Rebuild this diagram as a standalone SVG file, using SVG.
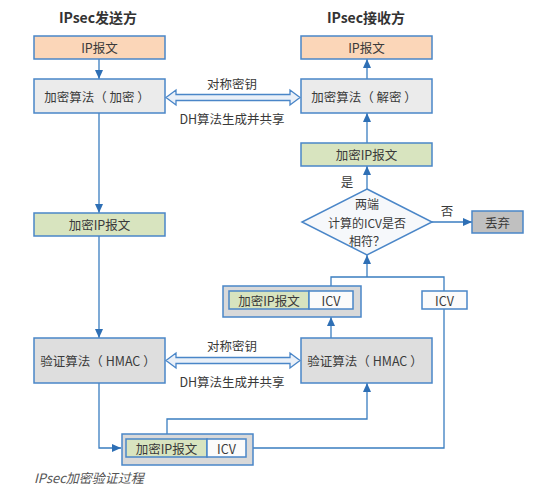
<svg xmlns="http://www.w3.org/2000/svg" width="554" height="490" viewBox="0 0 554 490">
<defs>
<marker id="ah" markerUnits="userSpaceOnUse" markerWidth="10" markerHeight="10" viewBox="0 0 10 10" refX="9" refY="5" orient="auto">
<path d="M0,1 L9,5 L0,9 Z" fill="#2e6fb5"/>
</marker>
</defs>
<style>
text{font-family:"Microsoft YaHei","Noto Sans CJK SC","Noto Sans",sans-serif;fill:#3a3a3a;font-size:12.5px;text-anchor:middle;dominant-baseline:central}
.title{font-size:14px;font-weight:bold;fill:#333}
.dia{font-size:12px}
.box{stroke:#4a86c8;stroke-width:1.5}
.peach{fill:#fbd6b8}
.gray1{fill:#ebebeb}
.gray2{fill:#dedede}
.green{fill:#d8e4bf}
.white{fill:#fbfbfb}
.outer{fill:#d9d9d9}
.drop{fill:#c0c0c0}
.conn{fill:none;stroke:#3a7dc0;stroke-width:1.3}
.arr{marker-end:url(#ah)}
.dbl{fill:#eaf0f8;stroke:#4a86c8;stroke-width:1.3}
.cap{font-style:italic;fill:#555;font-size:13px;text-anchor:start}
</style>

<text class="title" x="98" y="17">IPsec发送方</text>
<text class="title" x="366" y="17">IPsec接收方</text>

<g id="connectors">
<line class="conn arr" x1="99" y1="59" x2="99" y2="79"/>
<line class="conn arr" x1="99" y1="113" x2="99" y2="213"/>
<line class="conn arr" x1="99" y1="236" x2="99" y2="338"/>
<polyline class="conn arr" points="99,383 99,448 121,448"/>
<polyline class="conn arr" points="167,439 167,419 367,419 367,383"/>
<polyline class="conn" points="246,448 444,448 444,309"/>
<line class="conn arr" x1="331" y1="338" x2="331" y2="317"/>
<polyline class="conn" points="331,286 331,277 444,277 444,291"/>
<line class="conn arr" x1="367" y1="277" x2="367" y2="255"/>
<line class="conn arr" x1="432" y1="222" x2="472" y2="222"/>
<line class="conn arr" x1="367" y1="189" x2="367" y2="166"/>
<line class="conn arr" x1="367" y1="143" x2="367" y2="113"/>
<line class="conn arr" x1="367" y1="79" x2="367" y2="59"/>
<path class="dbl" d="M166,97.5 L176,90 L176,94.5 L290,94.5 L290,90 L300,97.5 L290,105 L290,100.5 L176,100.5 L176,105 Z"/>
<path class="dbl" d="M166,360.5 L176,353 L176,357.5 L290,357.5 L290,353 L300,360.5 L290,368 L290,363.5 L176,363.5 L176,368 Z"/>
</g>
<text x="232" y="83">对称密钥</text>
<text x="232" y="118">DH算法生成并共享</text>
<text x="232" y="345">对称密钥</text>
<text x="232" y="381">DH算法生成并共享</text>
<text x="347" y="181">是</text>
<text x="447" y="210">否</text>

<g id="s_ip"><rect class="box peach" x="34" y="36" width="131" height="23"/><text x="99.5" y="47.5">IP报文</text></g>
<g id="s_enc"><rect class="box gray1" x="34" y="79" width="131" height="34"/><text x="97" y="96" xml:space="preserve">加密算法（ 加密 ）</text></g>
<g id="s_encip"><rect class="box green" x="34" y="213" width="131" height="23"/><text x="99.5" y="224.5">加密IP报文</text></g>
<g id="s_hmac"><rect class="box gray2" x="34" y="338" width="131" height="45"/><text x="98" y="360.5" xml:space="preserve">验证算法（ HMAC ）</text></g>
<g id="s_pkt"><rect class="box outer" x="122" y="434" width="131" height="31"/><rect class="box green" x="126" y="439" width="81" height="18"/><rect class="box white" x="207" y="439" width="39" height="18"/><text x="166.5" y="448">加密IP报文</text><text x="226.5" y="448">ICV</text></g>

<g id="r_ip"><rect class="box peach" x="301" y="36" width="131" height="23"/><text x="366.5" y="47.5">IP报文</text></g>
<g id="r_dec"><rect class="box gray1" x="301" y="79" width="131" height="34"/><text x="364" y="96" xml:space="preserve">加密算法（ 解密 ）</text></g>
<g id="r_encip"><rect class="box green" x="301" y="143" width="131" height="23"/><text x="366.5" y="154.5">加密IP报文</text></g>
<g id="r_decide"><polygon class="box" fill="#f6f8fb" points="367,189 432,222 367,255 302,222"/><text class="dia" x="367" y="203.5">两端</text><text class="dia" x="367" y="222">计算的ICV是否</text><text class="dia" x="367" y="240.5">相符？</text></g>
<g id="r_drop"><rect class="box drop" x="472" y="211" width="51" height="22"/><text x="497.5" y="222">丢弃</text></g>
<g id="r_pkt"><rect class="box outer" x="223" y="286" width="138" height="31"/><rect class="box green" x="229" y="291" width="80" height="18"/><rect class="box white" x="309" y="291" width="44" height="18"/><text x="269" y="300">加密IP报文</text><text x="331" y="300">ICV</text></g>
<g id="r_icv"><rect class="box white" x="422" y="291" width="45" height="18"/><text x="444.5" y="300">ICV</text></g>
<g id="r_hmac"><rect class="box gray2" x="301" y="338" width="131" height="45"/><text x="365" y="360.5" xml:space="preserve">验证算法（ HMAC ）</text></g>

<text class="cap" x="34" y="477">IPsec加密验证过程</text>
</svg>
